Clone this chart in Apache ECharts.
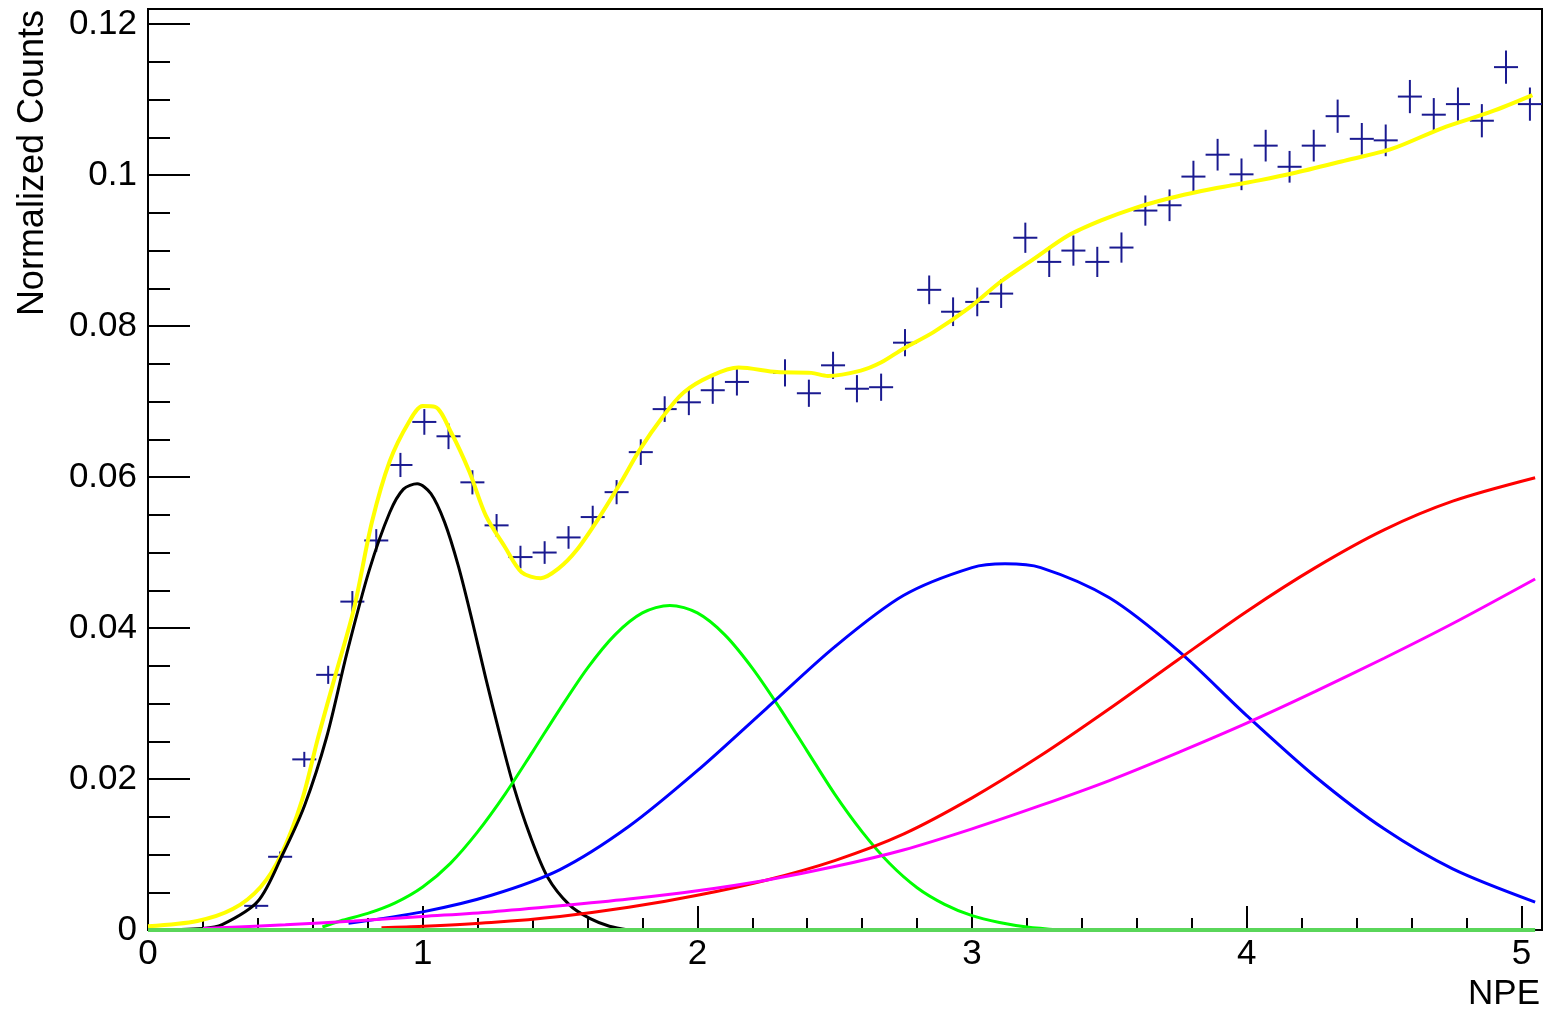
<!DOCTYPE html>
<html>
<head>
<meta charset="utf-8">
<script src="https://cdn.jsdelivr.net/npm/echarts@6/dist/echarts.min.js"></script>
<style>
html,body{margin:0;padding:0;background:#fff;}
#chart{width:1552px;height:1017px;}
</style>
</head>
<body>
<div id="chart"></div>
<script>
// ---- Data ----
const binCenters = [0.394,0.481,0.569,0.656,0.744,0.831,0.919,1.006,1.094,1.181,1.269,1.356,1.444,1.531,
  1.619,1.706,1.794,1.881,1.969,2.056,2.144,2.231,2.319,2.406,2.494,2.581,2.669,2.756,2.844,2.931,
  3.019,3.106,3.194,3.281,3.369,3.456,3.544,3.631,3.719,3.806,3.894,3.981,4.069,4.156,4.244,4.331,
  4.419,4.506,4.594,4.681,4.769,4.856,4.944,5.031];
const counts = [0.0032,0.0097,0.0226,0.0338,0.0435,0.0516,0.0616,0.0673,0.0654,0.0593,0.0536,0.0494,0.0500,0.0520,
  0.0547,0.0580,0.0633,0.0690,0.0699,0.0715,0.0726,null,0.0738,0.0711,0.0748,0.0717,0.0719,0.0778,0.0848,0.0819,
  0.0832,0.0843,0.0917,0.0885,0.0900,0.0885,0.0904,0.0953,0.0960,0.0998,0.1027,0.1001,0.1039,0.1011,0.1039,0.1078,
  0.1048,0.1046,0.1104,0.1080,0.1094,0.1072,0.1143,0.1094];
const errors = [0.0004,0.0007,0.0010,0.0012,0.0014,0.0015,0.0016,0.0017,0.0017,0.0016,0.0015,0.0015,0.0015,0.0015,
  0.0015,0.0016,0.0017,0.0017,0.0017,0.0018,0.0018,0.0018,0.0018,0.0018,0.0018,0.0018,0.0018,0.0018,0.0019,0.0019,
  0.0019,0.0019,0.0020,0.0020,0.0020,0.0020,0.0020,0.0020,0.0021,0.0021,0.0021,0.0021,0.0021,0.0021,0.0021,0.0022,
  0.0021,0.0021,0.0022,0.0022,0.0022,0.0022,0.0022,0.0022];
const halfBinWidth = 0.04375;

const totalFit = [[0,0.0005],[0.18,0.0012],[0.31,0.0028],[0.41,0.0057],[0.485,0.0100],[0.56,0.0171],[0.62,0.0256],
  [0.685,0.0341],[0.75,0.0426],[0.815,0.0540],[0.88,0.0621],[0.95,0.0673],[1.0,0.0694],[1.045,0.0693],[1.105,0.0658],
  [1.17,0.0607],[1.23,0.0549],[1.30,0.0507],[1.36,0.0474],[1.43,0.0466],[1.495,0.0479],[1.56,0.0503],[1.64,0.0545],
  [1.72,0.0592],[1.79,0.0636],[1.87,0.0678],[1.95,0.0712],[2.05,0.0734],[2.15,0.0745],[2.29,0.0739],[2.415,0.0738],
  [2.475,0.0734],[2.595,0.0741],[2.67,0.0752],[2.75,0.0770],[2.86,0.0792],[2.985,0.0823],[3.105,0.0859],[3.225,0.0889],
  [3.35,0.0920],[3.47,0.0940],[3.59,0.0956],[3.715,0.0969],[3.835,0.0979],[3.955,0.0987],[4.045,0.0993],[4.165,0.1002],
  [4.345,0.1018],[4.53,0.1035],[4.71,0.1062],[4.89,0.1084],[5.04,0.1106]];
const pe1 = [[0,0],[0.2,0.0002],[0.27,0.0007],[0.4,0.0038],[0.49,0.0100],[0.57,0.0165],[0.65,0.0255],[0.725,0.0368],
  [0.805,0.0476],[0.88,0.0553],[0.93,0.0584],[0.98,0.0591],[1.03,0.0578],[1.08,0.0540],[1.13,0.0482],[1.18,0.0410],
  [1.23,0.0333],[1.28,0.0260],[1.33,0.0192],[1.39,0.0126],[1.455,0.0070],[1.535,0.0033],[1.61,0.0015],[1.68,0.0005],[1.75,0.0]];
const pe2 = [[0.635,0.0004],[0.7,0.0012],[0.8,0.0022],[0.9,0.0036],[1.0,0.0057],[1.1,0.0088],[1.2,0.0130],[1.3,0.0180],
  [1.4,0.0236],[1.5,0.0293],[1.6,0.0347],[1.7,0.0391],[1.8,0.0420],[1.9,0.0430],[2.0,0.0420],[2.1,0.0391],[2.2,0.0347],
  [2.3,0.0294],[2.4,0.0237],[2.5,0.0180],[2.6,0.0130],[2.7,0.0088],[2.8,0.0056],[2.9,0.0034],[3.0,0.0019],[3.1,0.0010],
  [3.2,0.0004],[3.32,0.0]];
const pe3 = [[0.73,0.0009],[1.0,0.0024],[1.25,0.0046],[1.5,0.0080],[1.75,0.0137],[2.0,0.0211],[2.25,0.0293],[2.5,0.0375],
  [2.75,0.0443],[3.0,0.0480],[3.12,0.0485],[3.25,0.0480],[3.5,0.0440],[3.75,0.0370],[4.0,0.0284],[4.25,0.0203],
  [4.5,0.0134],[4.75,0.0081],[5.05,0.0037]];
const pe4 = [[0.85,0.0003],[1.0,0.0005],[1.25,0.0010],[1.5,0.0018],[1.75,0.0030],[2.0,0.0046],[2.25,0.0066],[2.5,0.0092],
  [2.75,0.0127],[3.0,0.0175],[3.25,0.0231],[3.5,0.0293],[3.75,0.0358],[4.0,0.0422],[4.25,0.0480],[4.5,0.0530],
  [4.75,0.0568],[5.05,0.0599]];
const pe5 = [[0.2,0.0002],[0.5,0.0007],[0.75,0.0012],[1.0,0.0018],[1.25,0.0024],[1.5,0.0032],[1.75,0.0041],[2.0,0.0052],
  [2.25,0.0066],[2.5,0.0084],[2.75,0.0106],[3.0,0.0134],[3.25,0.0165],[3.5,0.0198],[3.75,0.0235],[4.0,0.0274],
  [4.25,0.0316],[4.5,0.0360],[4.75,0.0406],[5.05,0.0465]];
const baseline = [[0,0],[5.05,0]];

const xMajor = [0,1,2,3,4,5];
const xMinor = [0.2,0.4,0.6,0.8,1.2,1.4,1.6,1.8,2.2,2.4,2.6,2.8,3.2,3.4,3.6,3.8,4.2,4.4,4.6,4.8];
const yMajor = [0,0.02,0.04,0.06,0.08,0.1,0.12];
const yMinor = [0.005,0.01,0.015,0.025,0.03,0.035,0.045,0.05,0.055,0.065,0.07,0.075,0.085,0.09,0.095,0.105,0.11,0.115];

// ---- Chart ----
const FONT = 'Liberation Sans, Arial, Helvetica, sans-serif';
const chart = echarts.init(document.getElementById('chart'), null, {renderer:'canvas'});
const pointData = binCenters.map((x,i)=>[x, counts[i], errors[i], halfBinWidth]).filter(d=>d[1]!==null);

function curve(name, data, color, width, z){
  return {name, type:'line', data, showSymbol:false, smooth:0.3, xAxisIndex:0, yAxisIndex:0,
    lineStyle:{color, width}, z, silent:true, animation:false};
}
const tickStyle = {color:'#000', width:2};
const labelStyle = {color:'#000', fontSize:35, fontFamily:FONT};

chart.setOption({
  animation:false,
  backgroundColor:'#fff',
  grid:{left:148, right:10, top:9, bottom:87, show:true, borderColor:'#000', borderWidth:2, backgroundColor:'transparent'},
  xAxis:[
    {type:'value', min:0, max:5.075, position:'bottom', axisLine:{show:false}, splitLine:{show:false},
     axisTick:{inside:true, length:24, customValues:xMajor, lineStyle:tickStyle},
     axisLabel:Object.assign({customValues:xMajor, margin:7}, labelStyle)},
    {type:'value', min:0, max:5.075, position:'bottom', offset:0, axisLine:{show:false}, splitLine:{show:false},
     axisTick:{inside:true, length:12, customValues:xMinor, lineStyle:tickStyle},
     axisLabel:{show:false}}
  ],
  yAxis:[
    {type:'value', min:0, max:0.122, position:'left', axisLine:{show:false}, splitLine:{show:false},
     axisTick:{inside:true, length:42, customValues:yMajor, lineStyle:tickStyle},
     axisLabel:Object.assign({customValues:yMajor, margin:11}, labelStyle)},
    {type:'value', min:0, max:0.122, position:'left', offset:0, axisLine:{show:false}, splitLine:{show:false},
     axisTick:{inside:true, length:22, customValues:yMinor, lineStyle:tickStyle},
     axisLabel:{show:false}}
  ],
  graphic:[
    {type:'text', x:15, y:10, rotation:Math.PI/2,
     style:{text:'Normalized Counts', font:'36px '+FONT, fill:'#000', align:'right', verticalAlign:'top'}},
    {type:'text', x:1540, y:977,
     style:{text:'NPE', font:'35px '+FONT, fill:'#000', align:'right', verticalAlign:'top'}}
  ],
  series:[
    {name:'data', type:'custom', xAxisIndex:0, yAxisIndex:0, data:pointData, z:2, silent:true,
     renderItem:function(params, api){
       const x = api.value(0), y = api.value(1), e = api.value(2), hw = api.value(3);
       const l = api.coord([x-hw, y]), r = api.coord([x+hw, y]);
       const t = api.coord([x, y+e]), b = api.coord([x, y-e]);
       const st = {stroke:'#1a1a90', lineWidth:2};
       return {type:'group', children:[
         {type:'line', shape:{x1:l[0], y1:l[1], x2:r[0], y2:r[1]}, style:st},
         {type:'line', shape:{x1:t[0], y1:t[1], x2:b[0], y2:b[1]}, style:st}
       ]};
     }},
    curve('total', totalFit, '#ffff00', 4, 3),
    curve('1 PE', pe1, '#000000', 3, 4),
    curve('2 PE', pe2, '#00ff00', 3, 4),
    curve('3 PE', pe3, '#0000ff', 3, 4),
    curve('4 PE', pe4, '#ff0000', 3, 4),
    curve('5 PE', pe5, '#ff00ff', 3, 4),
    curve('baseline', baseline, '#5ad65a', 4, 5)
  ]
});
</script>
</body>
</html>
